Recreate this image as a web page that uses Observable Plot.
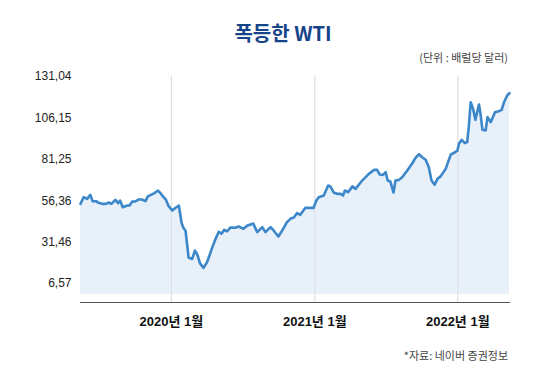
<!DOCTYPE html>
<html>
<head>
<meta charset="utf-8">
<script src="https://cdn.jsdelivr.net/npm/d3@7"></script>
<script src="https://cdn.jsdelivr.net/npm/@observablehq/plot@0.6"></script>
<style>
  html, body { margin: 0; padding: 0; background: #fff; }
  #wrap { position: relative; width: 559px; height: 380px; overflow: hidden; font-family: "Liberation Sans", "Noto Sans CJK KR", sans-serif; }
  #chart { position: absolute; left: 0; top: 0; }
  .title { position: absolute; left: 0; width: 566px; top: 20px; text-align: center; font-family: "Noto Sans CJK KR", sans-serif; font-weight: 700; font-size: 20px; color: #17458a; line-height: 26px; }
  .unit { position: absolute; right: 51px; top: 49px; font-family: "Noto Sans CJK KR", sans-serif; font-size: 11px; color: #444; line-height: 16px; }
  .caption { position: absolute; right: 51px; top: 347px; font-family: "Noto Sans CJK KR", sans-serif; font-size: 11px; color: #444; line-height: 16px; }
</style>
</head>
<body>
<div id="wrap">
  <div id="chart"></div>
  <div class="title">폭등한 WTI</div>
  <div class="unit">(단위 : 배럴당 달러)</div>
  <div class="caption">*자료: 네이버 증권정보</div>
</div>
<script>
const dates = [
  "2019-05-14","2019-05-22","2019-05-31","2019-06-08","2019-06-14","2019-06-23","2019-06-29","2019-07-08",
  "2019-07-18","2019-07-25","2019-08-01","2019-08-11","2019-08-18","2019-08-23","2019-08-30","2019-09-10",
  "2019-09-16","2019-09-23","2019-10-01","2019-10-09","2019-10-18","2019-10-27","2019-11-02","2019-11-11",
  "2019-11-19","2019-11-28","2019-12-04","2019-12-12","2019-12-18","2019-12-25","2020-01-03","2020-01-11",
  "2020-01-20","2020-01-27","2020-02-01","2020-02-06","2020-02-14","2020-02-23","2020-03-01","2020-03-07",
  "2020-03-14","2020-03-23","2020-04-01","2020-04-14","2020-04-22","2020-05-01","2020-05-08","2020-05-15",
  "2020-05-22","2020-05-31","2020-06-12","2020-06-21","2020-07-03","2020-07-12","2020-07-28","2020-08-07",
  "2020-08-20","2020-08-28","2020-09-10","2020-09-18","2020-09-30","2020-10-10","2020-10-22","2020-11-02",
  "2020-11-08","2020-11-17","2020-11-25","2020-12-08","2020-12-21","2020-12-29","2021-01-05","2021-01-11",
  "2021-01-24","2021-02-04","2021-02-10","2021-02-19","2021-02-27","2021-03-08","2021-03-14","2021-03-19",
  "2021-03-27","2021-04-07","2021-04-15","2021-05-02","2021-05-19","2021-06-01","2021-06-09","2021-06-16",
  "2021-06-24","2021-07-01","2021-07-06","2021-07-13","2021-07-21","2021-07-26","2021-08-04","2021-08-12",
  "2021-08-25","2021-09-07","2021-09-15","2021-09-24","2021-10-02","2021-10-11","2021-10-19","2021-10-26",
  "2021-11-03","2021-11-10","2021-11-18","2021-12-01","2021-12-14","2021-12-25","2021-12-31","2022-01-04",
  "2022-01-11","2022-01-19","2022-01-25","2022-01-29","2022-02-03","2022-02-09","2022-02-15","2022-02-24",
  "2022-02-28","2022-03-05","2022-03-13","2022-03-18","2022-03-26","2022-04-06","2022-04-16","2022-04-23",
  "2022-04-29","2022-05-07","2022-05-13"
];
const prices = [
  54.5, 58.5, 57.5, 59.9, 56.1, 56.1, 55.1, 54.5,
  54.5, 55.3, 54.5, 56.9, 54.9, 56.5, 52.5, 53.5,
  53.5, 55.9, 56.0, 57.1, 57.1, 56.1, 59.0, 60.0,
  61.0, 62.5, 61.0, 58.5, 57.0, 53.1, 50.5, 52.0,
  53.5, 43.0, 40.0, 38.5, 22.2, 21.4, 26.4, 24.2,
  18.7, 16.0, 19.4, 28.0, 33.0, 37.7, 36.5, 38.9,
  38.0, 40.3, 40.1, 40.9, 39.5, 41.3, 42.7, 37.5,
  40.5, 37.5, 40.5, 38.5, 34.9, 38.5, 43.5, 45.9,
  46.1, 48.9, 47.9, 52.1, 52.1, 52.1, 56.5, 58.5,
  59.5, 65.5, 64.9, 61.1, 60.5, 60.5, 59.5, 62.5,
  61.5, 65.0, 63.5, 68.5, 72.5, 74.9, 74.9, 72.1,
  71.9, 73.5, 68.5, 67.9, 61.3, 68.5, 68.9, 70.5,
  74.5, 78.9, 82.1, 84.3, 82.5, 81.0, 76.5, 68.5,
  66.0, 69.5, 71.0, 75.5, 84.1, 85.5, 86.5, 90.6,
  93.0, 91.0, 91.6, 100.6, 115.6, 111.6, 105.0, 114.2,
  108.6, 99.0, 98.6, 106.6, 103.6, 109.6, 110.2, 111.0,
  115.6, 119.6, 121.0
];
const yTicks = [6.57, 31.46, 56.36, 81.25, 106.15, 131.04];
const xTickDates = ["2020-01-01", "2021-01-01", "2022-01-01"];
const xTickLabels = ["2020년 1월", "2021년 1월", "2022년 1월"];

const data = dates.map((d, i) => ({date: new Date(d), price: prices[i]}));
const xTicks = xTickDates.map(d => new Date(d));

const chart = Plot.plot({
  width: 559,
  height: 380,
  marginLeft: 80,
  marginRight: 50,
  marginTop: 76,
  marginBottom: 78,
  style: {fontFamily: "'Liberation Sans', 'Noto Sans CJK KR', sans-serif", background: "transparent", overflow: "visible"},
  x: {type: "utc", domain: [data[0].date, data[data.length - 1].date]},
  y: {domain: [-4.8, 131.04]},
  marks: [
    Plot.areaY(data, {x: "date", y1: 0, y2: "price", fill: "#e8f0fa"}),
    Plot.gridY(yTicks, {stroke: "#d0d0d0", strokeOpacity: 1, strokeDasharray: "2,3", x1: 75, x2: 509}),
    Plot.ruleX(xTicks, {stroke: "#e0e0e0", strokeWidth: 1.2}),
    Plot.lineY(data, {x: "date", y: "price", stroke: "#3b87c9", strokeWidth: 2.6, strokeLinejoin: "round", strokeLinecap: "round"}),
    Plot.axisY(yTicks, {tickSize: 0, tickPadding: 9, fontSize: 12, fill: "#222", tickFormat: d => d.toFixed(2).replace(".", ","), label: null}),
    Plot.axisX(xTicks, {tickSize: 0, tickPadding: 14, fontSize: 13, fontWeight: "bold", fill: "#111", tickFormat: (d, i) => xTickLabels[i], label: null}),
    Plot.frame({anchor: "bottom", stroke: "#555", strokeWidth: 1.2})
  ]
});
document.getElementById("chart").appendChild(chart);
</script>
</body>
</html>
